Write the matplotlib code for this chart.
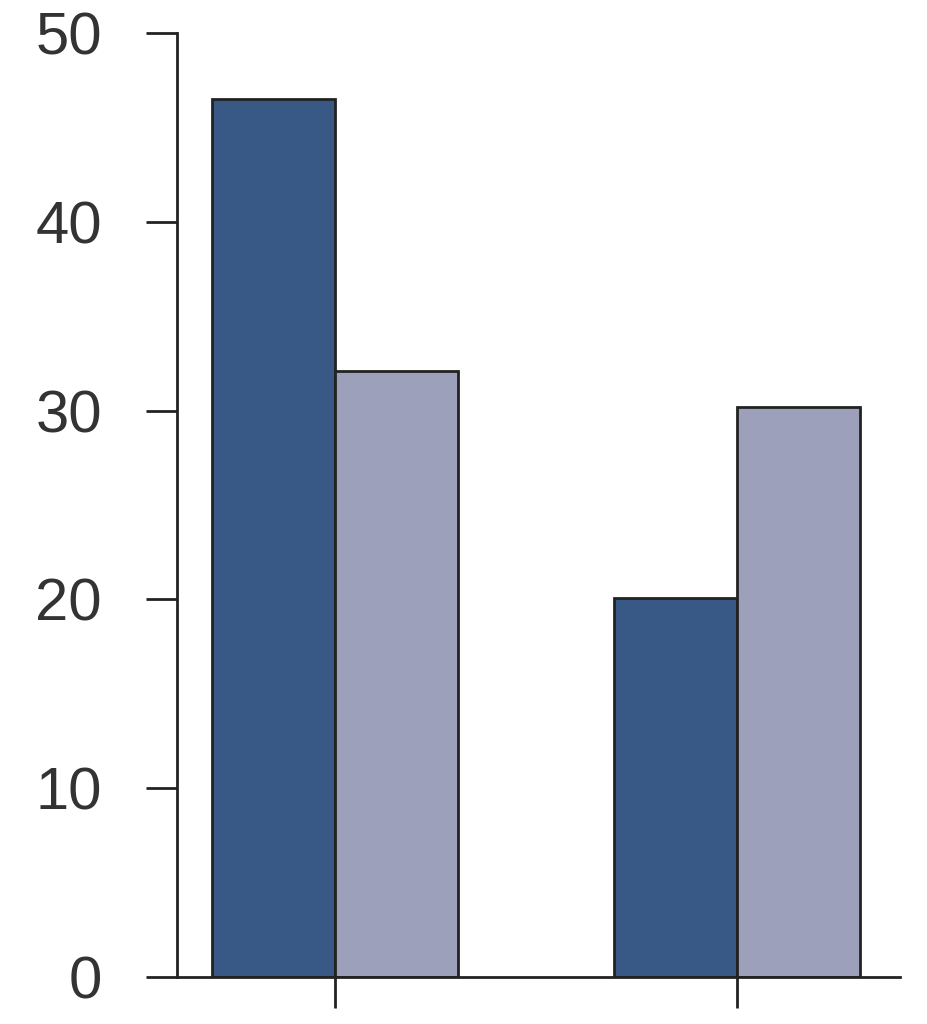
import numpy as np
import matplotlib
matplotlib.use("Agg")
from matplotlib import pyplot as plt

# Значения
groups = ["", ""]
series_dark = [46.5, 20.1]
series_light = [32.1, 30.2]
y_ticks = [0, 10, 20, 30, 40, 50]

plt.rcParams["font.family"] = ["Liberation Sans", "DejaVu Sans"]

fig = plt.figure(figsize=(9.28, 10.24), dpi=100)
ax = fig.add_axes([0.1907, 0.0459, 0.7791, 0.9219])

x = np.arange(len(groups))
width = 0.305
ax.bar(x - width / 2, series_dark, width, color="#385886",
       edgecolor="#222222", linewidth=2)
ax.bar(x + width / 2, series_light, width, color="#9da0bb",
       edgecolor="#222222", linewidth=2)

ax.set_xlim(-0.393, 1.405)
ax.set_ylim(0, 50)
ax.set_xticks(x)
ax.set_xticklabels(groups)
ax.set_yticks(y_ticks)

for side in ("top", "right"):
    ax.spines[side].set_visible(False)
for side in ("left", "bottom"):
    ax.spines[side].set_linewidth(2)
    ax.spines[side].set_color("#222222")

ax.tick_params(axis="both", direction="out", length=22, width=2,
               color="#222222", labelsize=43, labelcolor="#333333")
ax.tick_params(axis="y", pad=32)

fig.savefig("out.png", dpi=100)
